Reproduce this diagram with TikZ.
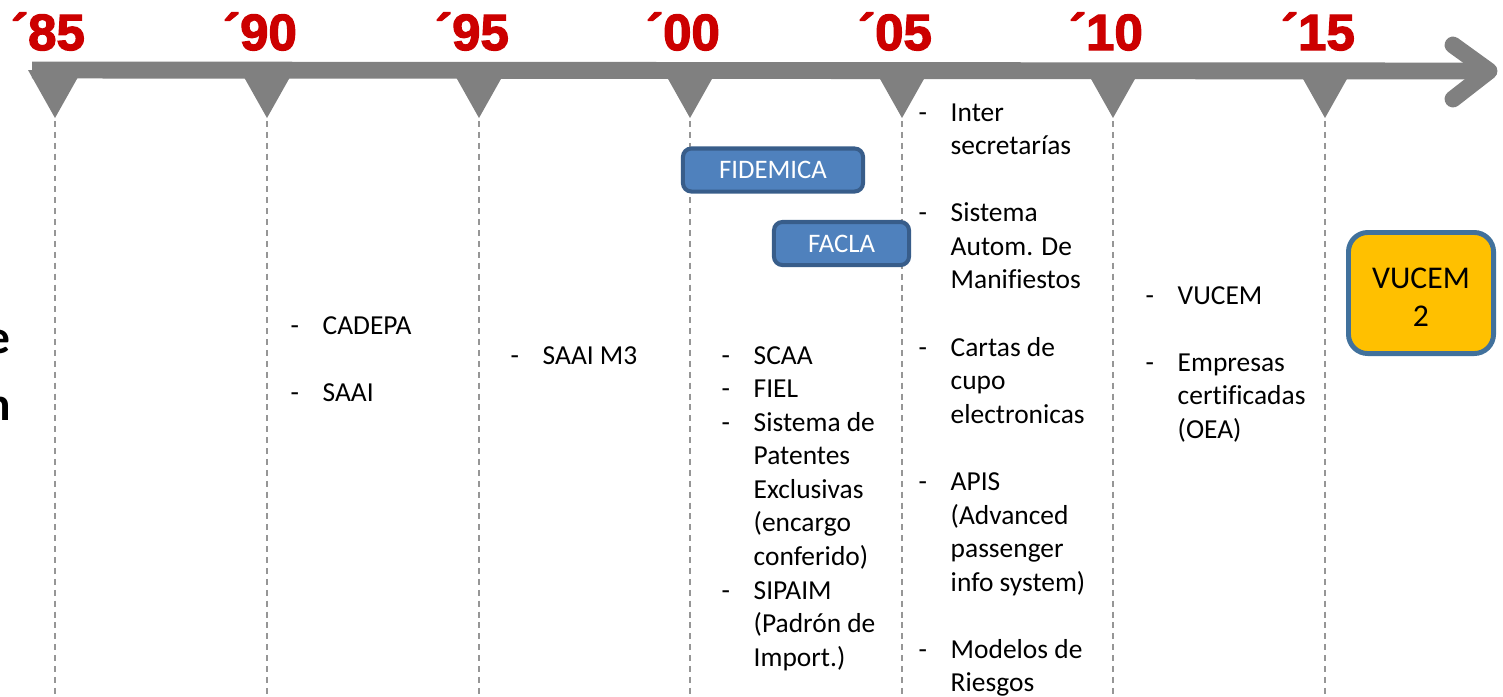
\documentclass[tikz,border=0pt]{standalone}
\usepackage{fontspec}
\setmainfont[Ligatures=NoCommon]{Carlito}
\newfontfamily\yearfont[FakeBold=2.5]{Liberation Sans}
\usetikzlibrary{positioning}
\definecolor{YearRed}{RGB}{204,0,0}
\definecolor{BarGray}{RGB}{128,128,128}
\definecolor{GuideGray}{RGB}{150,150,150}
\definecolor{TagBlue}{RGB}{79,129,189}
\definecolor{TagEdge}{RGB}{56,93,138}
\definecolor{GoalGold}{RGB}{255,192,0}
\definecolor{GoalEdge}{RGB}{65,113,156}
\newcommand{\itm}{\makebox[0.32cm][l]{-}}

\begin{document}
\begin{tikzpicture}[x=0.01cm,y=-0.01cm,
    bar/.style={BarGray,line width=4.8pt},
    guide/.style={GuideGray,line width=0.45pt,dash pattern=on 1.7pt off 1.4pt},
    year/.style={text=YearRed,font=\yearfont\bfseries\fontsize{14.5}{14.5}\selectfont,anchor=base,inner sep=0pt},
    items/.style={anchor=base west,inner sep=0pt,font=\fontsize{7.8}{9.55}\selectfont},
    tag/.style={draw=TagEdge,fill=TagBlue,line width=1.15pt,rounded corners=2.4pt,text=white,
        font=\fontsize{7.6}{9}\selectfont,minimum height=0.43cm,inner sep=0pt},
    goal/.style={draw=GoalEdge,fill=GoalGold,line width=1.4pt,rounded corners=5.5pt,
        minimum width=1.45cm,minimum height=1.21cm,inner sep=0pt},
    goaltext/.style={align=center,inner sep=0pt,font=\fontsize{9}{10.8}\selectfont},
    side/.style={anchor=base east,inner sep=0pt,font=\bfseries\fontsize{13.5}{16}\selectfont}]
    \useasboundingbox (0,0) rectangle (1503,696);
    %\draw[help lines] (0,0) grid[step=100] (1503,696);

    % time axis
    \coordinate (start) at (32,70);
    \coordinate (end) at (1489,71);
    \coordinate (headup) at (1453,45);
    \coordinate (headdown) at (1453,99);
    \draw[bar] (start) -- (end);
    \draw[bar,line cap=round,line join=round] (headup) -- (end) -- (headdown);

    \foreach \x/\yr in {55/85,267/90,479/95,690/00,902/05,1113/10,1325/15}{
        \fill[BarGray] (\x-27,70) -- (\x+27,70) -- (\x,118) -- cycle;
        \coordinate (g\yr) at (\x,121);
        \coordinate (h\yr) at (\x,696);
        \draw[guide] (g\yr) -- (h\yr);
        \node[year] (y\yr) at (\x-7,50) {´\yr};
    }

    % cut off title
    \node[side] (sidee) at (11,353) {e};
    \node[side] (siden) at (12,420) {n};

    % milestones
    \node[items] (c90) at (290,334) {\begin{tabular}[t]{@{}l@{}l@{}}
        \itm & CADEPA\\ & \\ \itm & SAAI\end{tabular}};
    \node[items] (c95) at (510,364) {\begin{tabular}[t]{@{}l@{}l@{}}
        \itm & SAAI M3\end{tabular}};
    \node[items] (c00) at (721,364) {\begin{tabular}[t]{@{}l@{}l@{}}
        \itm & SCAA\\ \itm & FIEL\\ \itm & Sistema de\\ & Patentes\\ & Exclusivas\\
        & (encargo\\ & conferido)\\ \itm & SIPAIM\\ & (Padrón de\\ & Import.)\end{tabular}};
    \node[items] (c05) at (918,121) {\begin{tabular}[t]{@{}l@{}l@{}}
        \itm & Inter\\ & secretarías\\ & \\ \itm & Sistema\\ & Autom. De\\ & Manifiestos\\ & \\
        \itm & Cartas de\\ & cupo\\ & electronicas\\ & \\ \itm & APIS\\ & (Advanced\\
        & passenger\\ & info system)\\ & \\ \itm & Modelos de\\ & Riesgos\end{tabular}};
    \node[items] (c10) at (1145,304) {\begin{tabular}[t]{@{}l@{}l@{}}
        \itm & VUCEM\\ & \\ \itm & Empresas\\ & certificadas\\ & (OEA)\end{tabular}};

    \node[tag,minimum width=1.8cm] (fidemica) at (773,170) {FIDEMICA};
    \node[tag,minimum width=1.35cm] (facla) at (841.5,243.5) {FACLA};
    \node[goal] (vucem) at (1421,293) {};
    \node[goaltext] (vucemtext) at ([yshift=-0.04cm]vucem.center) {VUCEM\\2};
\end{tikzpicture}
\end{document}
